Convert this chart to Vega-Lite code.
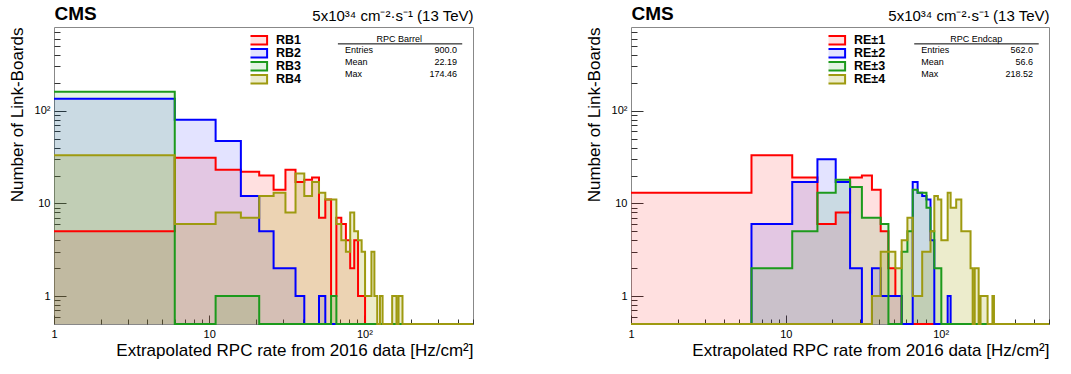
{
  "$schema": "https://vega.github.io/schema/vega-lite/v6.json",
  "background": "white",
  "padding": {"left": 7, "top": 3, "right": 5, "bottom": 5},
  "config": {
    "font": "Liberation Sans",
    "view": {"stroke": "#888", "strokeWidth": 1},
    "axis": {"labelFont": "Liberation Sans", "titleFont": "Liberation Sans", "labelColor": "#000", "titleColor": "#000", "tickColor": "#333", "grid": false, "domain": false, "titleFontWeight": "normal", "zindex": 1, "labelFlush": false},
    "legend": {"symbolType": "M-1.6,-0.7H1.6V0.7H-1.6Z", "symbolSize": 144, "symbolStrokeWidth": 2, "labelFont": "Liberation Sans", "labelFontSize": 12.5, "labelFontWeight": "bold", "labelColor": "#000", "rowPadding": 0, "clipHeight": 12.4, "labelOffset": 11.5, "padding": 0},
    "concat": {"spacing": 106}
  },
  "datasets": {
    "hist": [
      {"panel":"Barrel","series":"RB1","rate":1,"count":5},{"panel":"Barrel","series":"RB1","rate":6,"count":31},{"panel":"Barrel","series":"RB1","rate":11,"count":23},{"panel":"Barrel","series":"RB1","rate":16,"count":22},{"panel":"Barrel","series":"RB1","rate":21,"count":20},{"panel":"Barrel","series":"RB1","rate":26,"count":14},{"panel":"Barrel","series":"RB1","rate":31,"count":23},{"panel":"Barrel","series":"RB1","rate":36,"count":17},{"panel":"Barrel","series":"RB1","rate":41,"count":18},{"panel":"Barrel","series":"RB1","rate":46,"count":19},{"panel":"Barrel","series":"RB1","rate":51,"count":7},{"panel":"Barrel","series":"RB1","rate":56,"count":11},{"panel":"Barrel","series":"RB1","rate":61,"count":1},{"panel":"Barrel","series":"RB1","rate":66,"count":7},{"panel":"Barrel","series":"RB1","rate":71,"count":6},{"panel":"Barrel","series":"RB1","rate":76,"count":4},{"panel":"Barrel","series":"RB1","rate":81,"count":2},{"panel":"Barrel","series":"RB1","rate":86,"count":4},{"panel":"Barrel","series":"RB1","rate":91,"count":1},{"panel":"Barrel","series":"RB1","rate":96,"count":1},{"panel":"Barrel","series":"RB1","rate":101,"count":0},{"panel":"Barrel","series":"RB1","rate":501,"count":0},
      {"panel":"Barrel","series":"RB2","rate":1,"count":135},{"panel":"Barrel","series":"RB2","rate":6,"count":80},{"panel":"Barrel","series":"RB2","rate":11,"count":47},{"panel":"Barrel","series":"RB2","rate":16,"count":12},{"panel":"Barrel","series":"RB2","rate":21,"count":5},{"panel":"Barrel","series":"RB2","rate":26,"count":2},{"panel":"Barrel","series":"RB2","rate":31,"count":2},{"panel":"Barrel","series":"RB2","rate":36,"count":1},{"panel":"Barrel","series":"RB2","rate":41,"count":0},{"panel":"Barrel","series":"RB2","rate":51,"count":1},{"panel":"Barrel","series":"RB2","rate":56,"count":0},{"panel":"Barrel","series":"RB2","rate":501,"count":0},
      {"panel":"Barrel","series":"RB3","rate":1,"count":160},{"panel":"Barrel","series":"RB3","rate":6,"count":0},{"panel":"Barrel","series":"RB3","rate":11,"count":1},{"panel":"Barrel","series":"RB3","rate":16,"count":1},{"panel":"Barrel","series":"RB3","rate":21,"count":0},{"panel":"Barrel","series":"RB3","rate":61,"count":1},{"panel":"Barrel","series":"RB3","rate":66,"count":0},{"panel":"Barrel","series":"RB3","rate":501,"count":0},
      {"panel":"Barrel","series":"RB4","rate":1,"count":33},{"panel":"Barrel","series":"RB4","rate":6,"count":6},{"panel":"Barrel","series":"RB4","rate":11,"count":8},{"panel":"Barrel","series":"RB4","rate":16,"count":7},{"panel":"Barrel","series":"RB4","rate":21,"count":12},{"panel":"Barrel","series":"RB4","rate":26,"count":13},{"panel":"Barrel","series":"RB4","rate":31,"count":8},{"panel":"Barrel","series":"RB4","rate":36,"count":21},{"panel":"Barrel","series":"RB4","rate":41,"count":12},{"panel":"Barrel","series":"RB4","rate":46,"count":17},{"panel":"Barrel","series":"RB4","rate":51,"count":13},{"panel":"Barrel","series":"RB4","rate":56,"count":11},{"panel":"Barrel","series":"RB4","rate":61,"count":11},{"panel":"Barrel","series":"RB4","rate":66,"count":6},{"panel":"Barrel","series":"RB4","rate":71,"count":4},{"panel":"Barrel","series":"RB4","rate":76,"count":3},{"panel":"Barrel","series":"RB4","rate":81,"count":8},{"panel":"Barrel","series":"RB4","rate":86,"count":5},{"panel":"Barrel","series":"RB4","rate":91,"count":4},{"panel":"Barrel","series":"RB4","rate":96,"count":3},{"panel":"Barrel","series":"RB4","rate":101,"count":1},{"panel":"Barrel","series":"RB4","rate":106,"count":1},{"panel":"Barrel","series":"RB4","rate":111,"count":3},{"panel":"Barrel","series":"RB4","rate":116,"count":1},{"panel":"Barrel","series":"RB4","rate":121,"count":0},{"panel":"Barrel","series":"RB4","rate":126,"count":1},{"panel":"Barrel","series":"RB4","rate":131,"count":0},{"panel":"Barrel","series":"RB4","rate":151,"count":1},{"panel":"Barrel","series":"RB4","rate":156,"count":1},{"panel":"Barrel","series":"RB4","rate":161,"count":0},{"panel":"Barrel","series":"RB4","rate":166,"count":1},{"panel":"Barrel","series":"RB4","rate":171,"count":1},{"panel":"Barrel","series":"RB4","rate":176,"count":0},{"panel":"Barrel","series":"RB4","rate":501,"count":0},
      {"panel":"Endcap","series":"RE±1","rate":1,"count":13},{"panel":"Endcap","series":"RE±1","rate":6,"count":33},{"panel":"Endcap","series":"RE±1","rate":11,"count":19},{"panel":"Endcap","series":"RE±1","rate":16,"count":6},{"panel":"Endcap","series":"RE±1","rate":21,"count":8},{"panel":"Endcap","series":"RE±1","rate":26,"count":19},{"panel":"Endcap","series":"RE±1","rate":31,"count":20},{"panel":"Endcap","series":"RE±1","rate":36,"count":14},{"panel":"Endcap","series":"RE±1","rate":41,"count":5},{"panel":"Endcap","series":"RE±1","rate":46,"count":2},{"panel":"Endcap","series":"RE±1","rate":51,"count":1},{"panel":"Endcap","series":"RE±1","rate":56,"count":0},{"panel":"Endcap","series":"RE±1","rate":501,"count":0},
      {"panel":"Endcap","series":"RE±2","rate":1,"count":0},{"panel":"Endcap","series":"RE±2","rate":6,"count":6},{"panel":"Endcap","series":"RE±2","rate":11,"count":17},{"panel":"Endcap","series":"RE±2","rate":16,"count":30},{"panel":"Endcap","series":"RE±2","rate":21,"count":17},{"panel":"Endcap","series":"RE±2","rate":26,"count":2},{"panel":"Endcap","series":"RE±2","rate":31,"count":0},{"panel":"Endcap","series":"RE±2","rate":36,"count":2},{"panel":"Endcap","series":"RE±2","rate":41,"count":1},{"panel":"Endcap","series":"RE±2","rate":46,"count":1},{"panel":"Endcap","series":"RE±2","rate":51,"count":1},{"panel":"Endcap","series":"RE±2","rate":56,"count":0},{"panel":"Endcap","series":"RE±2","rate":66,"count":17},{"panel":"Endcap","series":"RE±2","rate":71,"count":13},{"panel":"Endcap","series":"RE±2","rate":76,"count":12},{"panel":"Endcap","series":"RE±2","rate":81,"count":11},{"panel":"Endcap","series":"RE±2","rate":86,"count":4},{"panel":"Endcap","series":"RE±2","rate":91,"count":0},{"panel":"Endcap","series":"RE±2","rate":111,"count":1},{"panel":"Endcap","series":"RE±2","rate":116,"count":0},{"panel":"Endcap","series":"RE±2","rate":501,"count":0},
      {"panel":"Endcap","series":"RE±3","rate":1,"count":0},{"panel":"Endcap","series":"RE±3","rate":6,"count":2},{"panel":"Endcap","series":"RE±3","rate":11,"count":5},{"panel":"Endcap","series":"RE±3","rate":16,"count":13},{"panel":"Endcap","series":"RE±3","rate":21,"count":18},{"panel":"Endcap","series":"RE±3","rate":26,"count":15},{"panel":"Endcap","series":"RE±3","rate":31,"count":7},{"panel":"Endcap","series":"RE±3","rate":36,"count":7},{"panel":"Endcap","series":"RE±3","rate":41,"count":6},{"panel":"Endcap","series":"RE±3","rate":46,"count":0},{"panel":"Endcap","series":"RE±3","rate":56,"count":3},{"panel":"Endcap","series":"RE±3","rate":61,"count":5},{"panel":"Endcap","series":"RE±3","rate":66,"count":14},{"panel":"Endcap","series":"RE±3","rate":71,"count":13},{"panel":"Endcap","series":"RE±3","rate":76,"count":13},{"panel":"Endcap","series":"RE±3","rate":81,"count":9},{"panel":"Endcap","series":"RE±3","rate":86,"count":5},{"panel":"Endcap","series":"RE±3","rate":91,"count":2},{"panel":"Endcap","series":"RE±3","rate":96,"count":2},{"panel":"Endcap","series":"RE±3","rate":101,"count":0},{"panel":"Endcap","series":"RE±3","rate":501,"count":0},
      {"panel":"Endcap","series":"RE±4","rate":1,"count":0},{"panel":"Endcap","series":"RE±4","rate":36,"count":1},{"panel":"Endcap","series":"RE±4","rate":41,"count":3},{"panel":"Endcap","series":"RE±4","rate":46,"count":3},{"panel":"Endcap","series":"RE±4","rate":51,"count":2},{"panel":"Endcap","series":"RE±4","rate":56,"count":4},{"panel":"Endcap","series":"RE±4","rate":61,"count":7},{"panel":"Endcap","series":"RE±4","rate":66,"count":1},{"panel":"Endcap","series":"RE±4","rate":71,"count":1},{"panel":"Endcap","series":"RE±4","rate":76,"count":3},{"panel":"Endcap","series":"RE±4","rate":81,"count":3},{"panel":"Endcap","series":"RE±4","rate":86,"count":5},{"panel":"Endcap","series":"RE±4","rate":91,"count":12},{"panel":"Endcap","series":"RE±4","rate":96,"count":11},{"panel":"Endcap","series":"RE±4","rate":101,"count":4},{"panel":"Endcap","series":"RE±4","rate":106,"count":4},{"panel":"Endcap","series":"RE±4","rate":111,"count":13},{"panel":"Endcap","series":"RE±4","rate":116,"count":9},{"panel":"Endcap","series":"RE±4","rate":121,"count":9},{"panel":"Endcap","series":"RE±4","rate":126,"count":11},{"panel":"Endcap","series":"RE±4","rate":131,"count":11},{"panel":"Endcap","series":"RE±4","rate":136,"count":5},{"panel":"Endcap","series":"RE±4","rate":141,"count":5},{"panel":"Endcap","series":"RE±4","rate":146,"count":5},{"panel":"Endcap","series":"RE±4","rate":151,"count":5},{"panel":"Endcap","series":"RE±4","rate":156,"count":2},{"panel":"Endcap","series":"RE±4","rate":161,"count":0},{"panel":"Endcap","series":"RE±4","rate":166,"count":2},{"panel":"Endcap","series":"RE±4","rate":171,"count":2},{"panel":"Endcap","series":"RE±4","rate":176,"count":0},{"panel":"Endcap","series":"RE±4","rate":181,"count":1},{"panel":"Endcap","series":"RE±4","rate":186,"count":1},{"panel":"Endcap","series":"RE±4","rate":191,"count":1},{"panel":"Endcap","series":"RE±4","rate":196,"count":1},{"panel":"Endcap","series":"RE±4","rate":201,"count":0},{"panel":"Endcap","series":"RE±4","rate":216,"count":1},{"panel":"Endcap","series":"RE±4","rate":221,"count":0},{"panel":"Endcap","series":"RE±4","rate":501,"count":0}
    ],
    "stats": [
      {"panel":"Barrel","stat":"title","value":"RPC Barrel"},
      {"panel":"Barrel","stat":"Entries","value":"900.0"},
      {"panel":"Barrel","stat":"Mean","value":"22.19"},
      {"panel":"Barrel","stat":"Max","value":"174.46"},
      {"panel":"Endcap","stat":"title","value":"RPC Endcap"},
      {"panel":"Endcap","stat":"Entries","value":"562.0"},
      {"panel":"Endcap","stat":"Mean","value":"56.6"},
      {"panel":"Endcap","stat":"Max","value":"218.52"}
    ]
  },
  "hconcat": [
    {
      "width": 419, "height": 297,
      "layer": [
        {
          "data": {"name": "hist"},
          "transform": [{"filter": "datum.panel == 'Barrel'"}],
          "mark": {"type": "area", "interpolate": "step-after", "opacity": 1},
          "encoding": {
            "x": {"field": "rate", "type": "quantitative",
              "scale": {"type": "log", "domain": [1, 501], "nice": false},
              "axis": {"orient": "bottom", "values": [1, 10, 100], "labelExpr": "datum.value == 100 ? '10²' : format(datum.value, 'd')", "tickSize": -9, "labelPadding": 13, "labelFontSize": 11, "title": "Extrapolated RPC rate from 2016 data [Hz/cm²]", "titleAnchor": "end", "titleFontSize": 17, "titlePadding": 3}},
            "y": {"field": "count", "type": "quantitative", "stack": null,
              "scale": {"type": "log", "domain": [0.5, 800], "nice": false, "clamp": true},
              "axis": {"orient": "left", "values": [1, 10, 100], "labelExpr": "datum.value == 100 ? '10²' : format(datum.value, 'd')", "tickSize": -12, "labelPadding": 16, "labelFontSize": 11, "title": "Number of Link-Boards", "titleAnchor": "end", "titleFontSize": 17, "titlePadding": 8}},
            "fill": {"field": "series", "type": "nominal",
              "scale": {"domain": ["RB1", "RB2", "RB3", "RB4"], "range": ["rgba(255,0,0,0.12)", "rgba(0,0,255,0.11)", "rgba(0,150,0,0.11)", "rgba(160,160,0,0.2)"]},
              "legend": {"title": null, "orient": "none", "legendX": 196.5, "legendY": 7}}
          }
        },
        {
          "data": {"name": "hist"},
          "transform": [{"filter": "datum.panel == 'Barrel'"}],
          "mark": {"type": "line", "interpolate": "step-after", "strokeWidth": 2},
          "encoding": {
            "x": {"field": "rate", "type": "quantitative",
              "axis": {"orient": "bottom", "values": [2,3,4,5,6,7,8,9,20,30,40,50,60,70,80,90,200,300,400,500], "labels": false, "tickSize": -5, "title": null}},
            "y": {"field": "count", "type": "quantitative",
              "axis": {"orient": "left", "values": [0.6,0.7,0.8,0.9,2,3,4,5,6,7,8,9,20,30,40,50,60,70,80,90,200,300,400,500,600,700], "labels": false, "tickSize": -6, "title": null}},
            "stroke": {"field": "series", "type": "nominal",
              "scale": {"domain": ["RB1", "RB2", "RB3", "RB4"], "range": ["#ff0000", "#0000ff", "#1c9a1c", "#9e9a10"]},
              "legend": {"title": null, "orient": "none", "legendX": 196.5, "legendY": 7}}
          }
        },
        {
          "data": {"name": "stats"},
          "transform": [{"filter": "datum.panel == 'Barrel' && datum.stat == 'title'"}],
          "mark": {"type": "text", "align": "center", "baseline": "middle", "fontSize": 9, "font": "Liberation Sans", "color": "#000"},
          "encoding": {
            "x": {"datum": 168, "type": "quantitative", "axis": {"orient": "top", "title": "CMS", "titleAnchor": "start", "titleAlign": "left", "titleFontSize": 19, "titleFontWeight": "bold", "labels": false, "ticks": false, "titlePadding": 4}},
            "y": {"datum": 593, "type": "quantitative", "axis": null},
            "text": {"field": "value"}
          }
        },
        {
          "data": {"name": "stats"},
          "transform": [{"filter": "datum.panel == 'Barrel' && datum.stat == 'title'"}],
          "mark": {"type": "rule", "color": "#000", "strokeWidth": 1},
          "encoding": {
            "x": {"datum": 67.5, "type": "quantitative", "axis": {"orient": "top", "title": "5x10³⁴ cm⁻²·s⁻¹ (13 TeV)", "titleAnchor": "end", "titleAlign": "right", "titleFontSize": 15, "labels": false, "ticks": false, "titlePadding": 4}},
            "x2": {"datum": 427},
            "y": {"datum": 526, "type": "quantitative", "axis": null}
          }
        },
        {
          "data": {"name": "stats"},
          "transform": [{"filter": "datum.panel == 'Barrel' && datum.stat == 'Entries'"}],
          "mark": {"type": "text", "align": "left", "baseline": "middle", "fontSize": 9, "font": "Liberation Sans", "color": "#000"},
          "encoding": {"x": {"datum": 75, "type": "quantitative", "axis": null}, "y": {"datum": 447, "type": "quantitative", "axis": null}, "text": {"field": "stat"}}
        },
        {
          "data": {"name": "stats"},
          "transform": [{"filter": "datum.panel == 'Barrel' && datum.stat == 'Entries'"}],
          "mark": {"type": "text", "align": "right", "baseline": "middle", "fontSize": 9, "font": "Liberation Sans", "color": "#000"},
          "encoding": {"x": {"datum": 395, "type": "quantitative", "axis": null}, "y": {"datum": 447, "type": "quantitative", "axis": null}, "text": {"field": "value"}}
        },
        {
          "data": {"name": "stats"},
          "transform": [{"filter": "datum.panel == 'Barrel' && datum.stat == 'Mean'"}],
          "mark": {"type": "text", "align": "left", "baseline": "middle", "fontSize": 9, "font": "Liberation Sans", "color": "#000"},
          "encoding": {"x": {"datum": 75, "type": "quantitative", "axis": null}, "y": {"datum": 334, "type": "quantitative", "axis": null}, "text": {"field": "stat"}}
        },
        {
          "data": {"name": "stats"},
          "transform": [{"filter": "datum.panel == 'Barrel' && datum.stat == 'Mean'"}],
          "mark": {"type": "text", "align": "right", "baseline": "middle", "fontSize": 9, "font": "Liberation Sans", "color": "#000"},
          "encoding": {"x": {"datum": 395, "type": "quantitative", "axis": null}, "y": {"datum": 334, "type": "quantitative", "axis": null}, "text": {"field": "value"}}
        },
        {
          "data": {"name": "stats"},
          "transform": [{"filter": "datum.panel == 'Barrel' && datum.stat == 'Max'"}],
          "mark": {"type": "text", "align": "left", "baseline": "middle", "fontSize": 9, "font": "Liberation Sans", "color": "#000"},
          "encoding": {"x": {"datum": 75, "type": "quantitative", "axis": null}, "y": {"datum": 246, "type": "quantitative", "axis": null}, "text": {"field": "stat"}}
        },
        {
          "data": {"name": "stats"},
          "transform": [{"filter": "datum.panel == 'Barrel' && datum.stat == 'Max'"}],
          "mark": {"type": "text", "align": "right", "baseline": "middle", "fontSize": 9, "font": "Liberation Sans", "color": "#000"},
          "encoding": {"x": {"datum": 395, "type": "quantitative", "axis": null}, "y": {"datum": 246, "type": "quantitative", "axis": null}, "text": {"field": "value"}}
        }
      ],
      "resolve": {"axis": {"x": "independent", "y": "independent"}}
    },
    {
      "width": 418, "height": 297,
      "layer": [
        {
          "data": {"name": "hist"},
          "transform": [{"filter": "datum.panel == 'Endcap'"}],
          "mark": {"type": "area", "interpolate": "step-after", "opacity": 1},
          "encoding": {
            "x": {"field": "rate", "type": "quantitative",
              "scale": {"type": "log", "domain": [1, 501], "nice": false},
              "axis": {"orient": "bottom", "values": [1, 10, 100], "labelExpr": "datum.value == 100 ? '10²' : format(datum.value, 'd')", "tickSize": -9, "labelPadding": 13, "labelFontSize": 11, "title": "Extrapolated RPC rate from 2016 data [Hz/cm²]", "titleAnchor": "end", "titleFontSize": 17, "titlePadding": 3}},
            "y": {"field": "count", "type": "quantitative", "stack": null,
              "scale": {"type": "log", "domain": [0.5, 800], "nice": false, "clamp": true},
              "axis": {"orient": "left", "values": [1, 10, 100], "labelExpr": "datum.value == 100 ? '10²' : format(datum.value, 'd')", "tickSize": -12, "labelPadding": 16, "labelFontSize": 11, "title": "Number of Link-Boards", "titleAnchor": "end", "titleFontSize": 17, "titlePadding": 8}},
            "fill": {"field": "series", "type": "nominal",
              "scale": {"domain": ["RE±1", "RE±2", "RE±3", "RE±4"], "range": ["rgba(255,0,0,0.12)", "rgba(0,0,255,0.11)", "rgba(0,150,0,0.11)", "rgba(160,160,0,0.2)"]},
              "legend": {"title": null, "orient": "none", "legendX": 197.5, "legendY": 7}}
          }
        },
        {
          "data": {"name": "hist"},
          "transform": [{"filter": "datum.panel == 'Endcap'"}],
          "mark": {"type": "line", "interpolate": "step-after", "strokeWidth": 2},
          "encoding": {
            "x": {"field": "rate", "type": "quantitative",
              "axis": {"orient": "bottom", "values": [2,3,4,5,6,7,8,9,20,30,40,50,60,70,80,90,200,300,400,500], "labels": false, "tickSize": -5, "title": null}},
            "y": {"field": "count", "type": "quantitative",
              "axis": {"orient": "left", "values": [0.6,0.7,0.8,0.9,2,3,4,5,6,7,8,9,20,30,40,50,60,70,80,90,200,300,400,500,600,700], "labels": false, "tickSize": -6, "title": null}},
            "stroke": {"field": "series", "type": "nominal",
              "scale": {"domain": ["RE±1", "RE±2", "RE±3", "RE±4"], "range": ["#ff0000", "#0000ff", "#1c9a1c", "#9e9a10"]},
              "legend": {"title": null, "orient": "none", "legendX": 197.5, "legendY": 7}}
          }
        },
        {
          "data": {"name": "stats"},
          "transform": [{"filter": "datum.panel == 'Endcap' && datum.stat == 'title'"}],
          "mark": {"type": "text", "align": "center", "baseline": "middle", "fontSize": 9, "font": "Liberation Sans", "color": "#000"},
          "encoding": {
            "x": {"datum": 170, "type": "quantitative", "axis": {"orient": "top", "title": "CMS", "titleAnchor": "start", "titleAlign": "left", "titleFontSize": 19, "titleFontWeight": "bold", "labels": false, "ticks": false, "titlePadding": 4}},
            "y": {"datum": 593, "type": "quantitative", "axis": null},
            "text": {"field": "value"}
          }
        },
        {
          "data": {"name": "stats"},
          "transform": [{"filter": "datum.panel == 'Endcap' && datum.stat == 'title'"}],
          "mark": {"type": "rule", "color": "#000", "strokeWidth": 1},
          "encoding": {
            "x": {"datum": 67.5, "type": "quantitative", "axis": {"orient": "top", "title": "5x10³⁴ cm⁻²·s⁻¹ (13 TeV)", "titleAnchor": "end", "titleAlign": "right", "titleFontSize": 15, "labels": false, "ticks": false, "titlePadding": 4}},
            "x2": {"datum": 430},
            "y": {"datum": 526, "type": "quantitative", "axis": null}
          }
        },
        {
          "data": {"name": "stats"},
          "transform": [{"filter": "datum.panel == 'Endcap' && datum.stat == 'Entries'"}],
          "mark": {"type": "text", "align": "left", "baseline": "middle", "fontSize": 9, "font": "Liberation Sans", "color": "#000"},
          "encoding": {"x": {"datum": 75, "type": "quantitative", "axis": null}, "y": {"datum": 447, "type": "quantitative", "axis": null}, "text": {"field": "stat"}}
        },
        {
          "data": {"name": "stats"},
          "transform": [{"filter": "datum.panel == 'Endcap' && datum.stat == 'Entries'"}],
          "mark": {"type": "text", "align": "right", "baseline": "middle", "fontSize": 9, "font": "Liberation Sans", "color": "#000"},
          "encoding": {"x": {"datum": 395, "type": "quantitative", "axis": null}, "y": {"datum": 447, "type": "quantitative", "axis": null}, "text": {"field": "value"}}
        },
        {
          "data": {"name": "stats"},
          "transform": [{"filter": "datum.panel == 'Endcap' && datum.stat == 'Mean'"}],
          "mark": {"type": "text", "align": "left", "baseline": "middle", "fontSize": 9, "font": "Liberation Sans", "color": "#000"},
          "encoding": {"x": {"datum": 75, "type": "quantitative", "axis": null}, "y": {"datum": 334, "type": "quantitative", "axis": null}, "text": {"field": "stat"}}
        },
        {
          "data": {"name": "stats"},
          "transform": [{"filter": "datum.panel == 'Endcap' && datum.stat == 'Mean'"}],
          "mark": {"type": "text", "align": "right", "baseline": "middle", "fontSize": 9, "font": "Liberation Sans", "color": "#000"},
          "encoding": {"x": {"datum": 395, "type": "quantitative", "axis": null}, "y": {"datum": 334, "type": "quantitative", "axis": null}, "text": {"field": "value"}}
        },
        {
          "data": {"name": "stats"},
          "transform": [{"filter": "datum.panel == 'Endcap' && datum.stat == 'Max'"}],
          "mark": {"type": "text", "align": "left", "baseline": "middle", "fontSize": 9, "font": "Liberation Sans", "color": "#000"},
          "encoding": {"x": {"datum": 75, "type": "quantitative", "axis": null}, "y": {"datum": 246, "type": "quantitative", "axis": null}, "text": {"field": "stat"}}
        },
        {
          "data": {"name": "stats"},
          "transform": [{"filter": "datum.panel == 'Endcap' && datum.stat == 'Max'"}],
          "mark": {"type": "text", "align": "right", "baseline": "middle", "fontSize": 9, "font": "Liberation Sans", "color": "#000"},
          "encoding": {"x": {"datum": 395, "type": "quantitative", "axis": null}, "y": {"datum": 246, "type": "quantitative", "axis": null}, "text": {"field": "value"}}
        }
      ],
      "resolve": {"axis": {"x": "independent", "y": "independent"}}
    }
  ],
  "resolve": {"scale": {"x": "independent", "y": "independent", "fill": "independent", "stroke": "independent"}}
}
